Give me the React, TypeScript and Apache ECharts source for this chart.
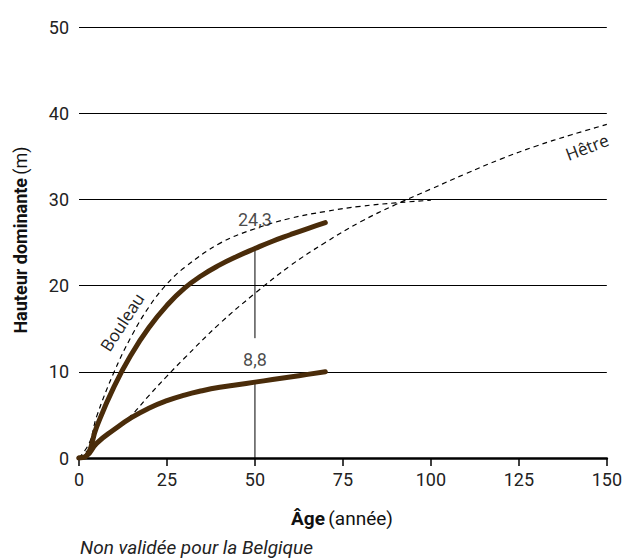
import React, { useEffect, useRef } from "react";
import * as echarts from "echarts";

const xTicks = [0, 25, 50, 75, 100, 125, 150];
const yTicks = [0, 10, 20, 30, 40, 50];

const highAges = [0, 2, 5, 10, 15, 20, 25, 30, 35, 40, 45, 50, 55, 60, 65, 70];
const highHeights = [0, 0.2, 3.6, 8.3, 12.1, 15.2, 17.7, 19.7, 21.2, 22.4, 23.4, 24.3, 25.15, 25.9, 26.62, 27.3];

const lowAges = [0, 2, 5, 10, 15, 20, 25, 30, 35, 40, 45, 50, 55, 60, 65, 70];
const lowHeights = [0, 0.2, 1.7, 3.3, 4.7, 5.8, 6.65, 7.3, 7.8, 8.2, 8.5, 8.8, 9.1, 9.4, 9.7, 10];

const bouleauAges = [0, 3, 5, 10, 15, 20, 25, 30, 40, 50, 60, 70, 80, 90, 100];
const bouleauHeights = [0, 1.8, 4.8, 10, 14.2, 17.6, 20.2, 22.1, 24.9, 26.6, 27.8, 28.6, 29.2, 29.6, 29.9];

const hetreAges = [0, 5, 10, 15, 20, 25, 30, 40, 50, 60, 70, 80, 90, 100, 110, 120, 130, 140, 150];
const hetreHeights = [0, 1.7, 3.3, 5.0, 7.3, 9.5, 11.6, 15.6, 19.1, 22.3, 25, 27.4, 29.4, 31.2, 33.0, 34.7, 36.2, 37.5, 38.7];

const refAge = 50;
const refHigh = 24.3;
const refLow = 8.8;
const refGapBottom = 13.9;

const pairs = (xs: number[], ys: number[]) => xs.map((x, i) => [x, ys[i]]);
const fmt = (v: number) => String(v).replace(".", ",");

const BROWN = "#4a2c0a";
const FONT = "Roboto";

export default function App() {
  const ref = useRef<HTMLDivElement>(null);
  useEffect(() => {
    if (!ref.current) return;
    const chart = echarts.init(ref.current, undefined, { renderer: "svg" });
    chart.setOption({
      animation: false,
      backgroundColor: "#ffffff",
      grid: { left: 79, right: 17, top: 27, bottom: 102 },
      xAxis: {
        type: "value",
        min: xTicks[0],
        max: xTicks[xTicks.length - 1],
        interval: 25,
        axisLine: { show: true, lineStyle: { color: "#000", width: 2.5 } },
        axisTick: { show: true, length: 8, lineStyle: { color: "#000", width: 1.5 } },
        axisLabel: { color: "#222", fontSize: 18, fontFamily: FONT, margin: 12 },
        splitLine: { show: false },
      },
      yAxis: {
        type: "value",
        min: yTicks[0],
        max: yTicks[yTicks.length - 1],
        interval: 10,
        axisLine: { show: false },
        axisTick: { show: false },
        axisLabel: { color: "#222", fontSize: 18, fontFamily: FONT, margin: 10 },
        splitLine: { show: true, lineStyle: { color: "#000", width: 1 } },
      },
      series: [
        {
          type: "line",
          data: [[refAge, 0], [refAge, refLow]],
          symbol: "none",
          lineStyle: { color: "#000", width: 1 },
          z: 1,
        },
        {
          type: "line",
          data: [[refAge, refGapBottom], [refAge, refHigh]],
          symbol: "none",
          lineStyle: { color: "#000", width: 1 },
          z: 1,
        },
        {
          type: "line",
          data: pairs(bouleauAges, bouleauHeights),
          smooth: 0.4,
          symbol: "none",
          lineStyle: { color: "#000", width: 1.2, type: [5, 4] },
          z: 2,
        },
        {
          type: "line",
          data: pairs(hetreAges, hetreHeights),
          smooth: 0.4,
          symbol: "none",
          lineStyle: { color: "#000", width: 1.2, type: [5, 4] },
          z: 2,
        },
        {
          type: "line",
          data: pairs(highAges, highHeights),
          smooth: 0.5,
          symbol: "none",
          lineStyle: { color: BROWN, width: 5, cap: "round", join: "round" },
          z: 3,
        },
        {
          type: "line",
          data: pairs(lowAges, lowHeights),
          smooth: 0.5,
          symbol: "none",
          lineStyle: { color: BROWN, width: 5, cap: "round", join: "round" },
          z: 3,
        },
        {
          type: "scatter",
          data: [
            { value: [refAge, refHigh], label: { distance: 20 } },
            { value: [refAge, refLow], label: { distance: 13 } },
          ],
          symbolSize: 1,
          itemStyle: { color: "rgba(0,0,0,0)" },
          label: {
            show: true,
            position: "top",
            formatter: (p: any) => fmt(p.value[1]),
            color: "#1a1a1a",
            fontSize: 18,
            fontFamily: FONT,
          },
          z: 4,
        },
      ],
      graphic: [
        {
          type: "text",
          x: 20,
          y: 240,
          rotation: Math.PI / 2,
          style: {
            text: "{b|Hauteur dominante} {n|(m)}",
            rich: {
              b: { fontSize: 18, fontWeight: "bold", fontFamily: FONT, fill: "#111" },
              n: { fontSize: 18, fontFamily: FONT, fill: "#111" },
            },
            align: "center",
            verticalAlign: "middle",
          },
        },
        {
          type: "text",
          x: 342,
          y: 518,
          style: {
            text: "{b|Âge} {n|(année)}",
            rich: {
              b: { fontSize: 19, fontWeight: "bold", fontFamily: FONT, fill: "#111" },
              n: { fontSize: 19, fontFamily: FONT, fill: "#111" },
            },
            align: "center",
            verticalAlign: "middle",
          },
        },
        {
          type: "text",
          x: 80,
          y: 547,
          style: {
            text: "Non validée pour la Belgique",
            fontSize: 19,
            fontStyle: "italic",
            fontFamily: FONT,
            fill: "#222",
            align: "left",
            verticalAlign: "middle",
          },
        },
        {
          type: "text",
          x: 122,
          y: 322,
          rotation: (57 * Math.PI) / 180,
          style: {
            text: "Bouleau",
            fontSize: 17,
            fontFamily: "Open Sans",
            fill: "#222",
            align: "center",
            verticalAlign: "middle",
          },
        },
        {
          type: "text",
          x: 587,
          y: 147,
          rotation: (21 * Math.PI) / 180,
          style: {
            text: "Hêtre",
            fontSize: 17,
            fontFamily: "Open Sans",
            fill: "#222",
            align: "center",
            verticalAlign: "middle",
          },
        },
      ],
    });
    return () => chart.dispose();
  }, []);
  return (
    <div
      ref={ref}
      style={{ position: "fixed", left: 0, top: 0, width: 625, height: 560 }}
    />
  );
}
